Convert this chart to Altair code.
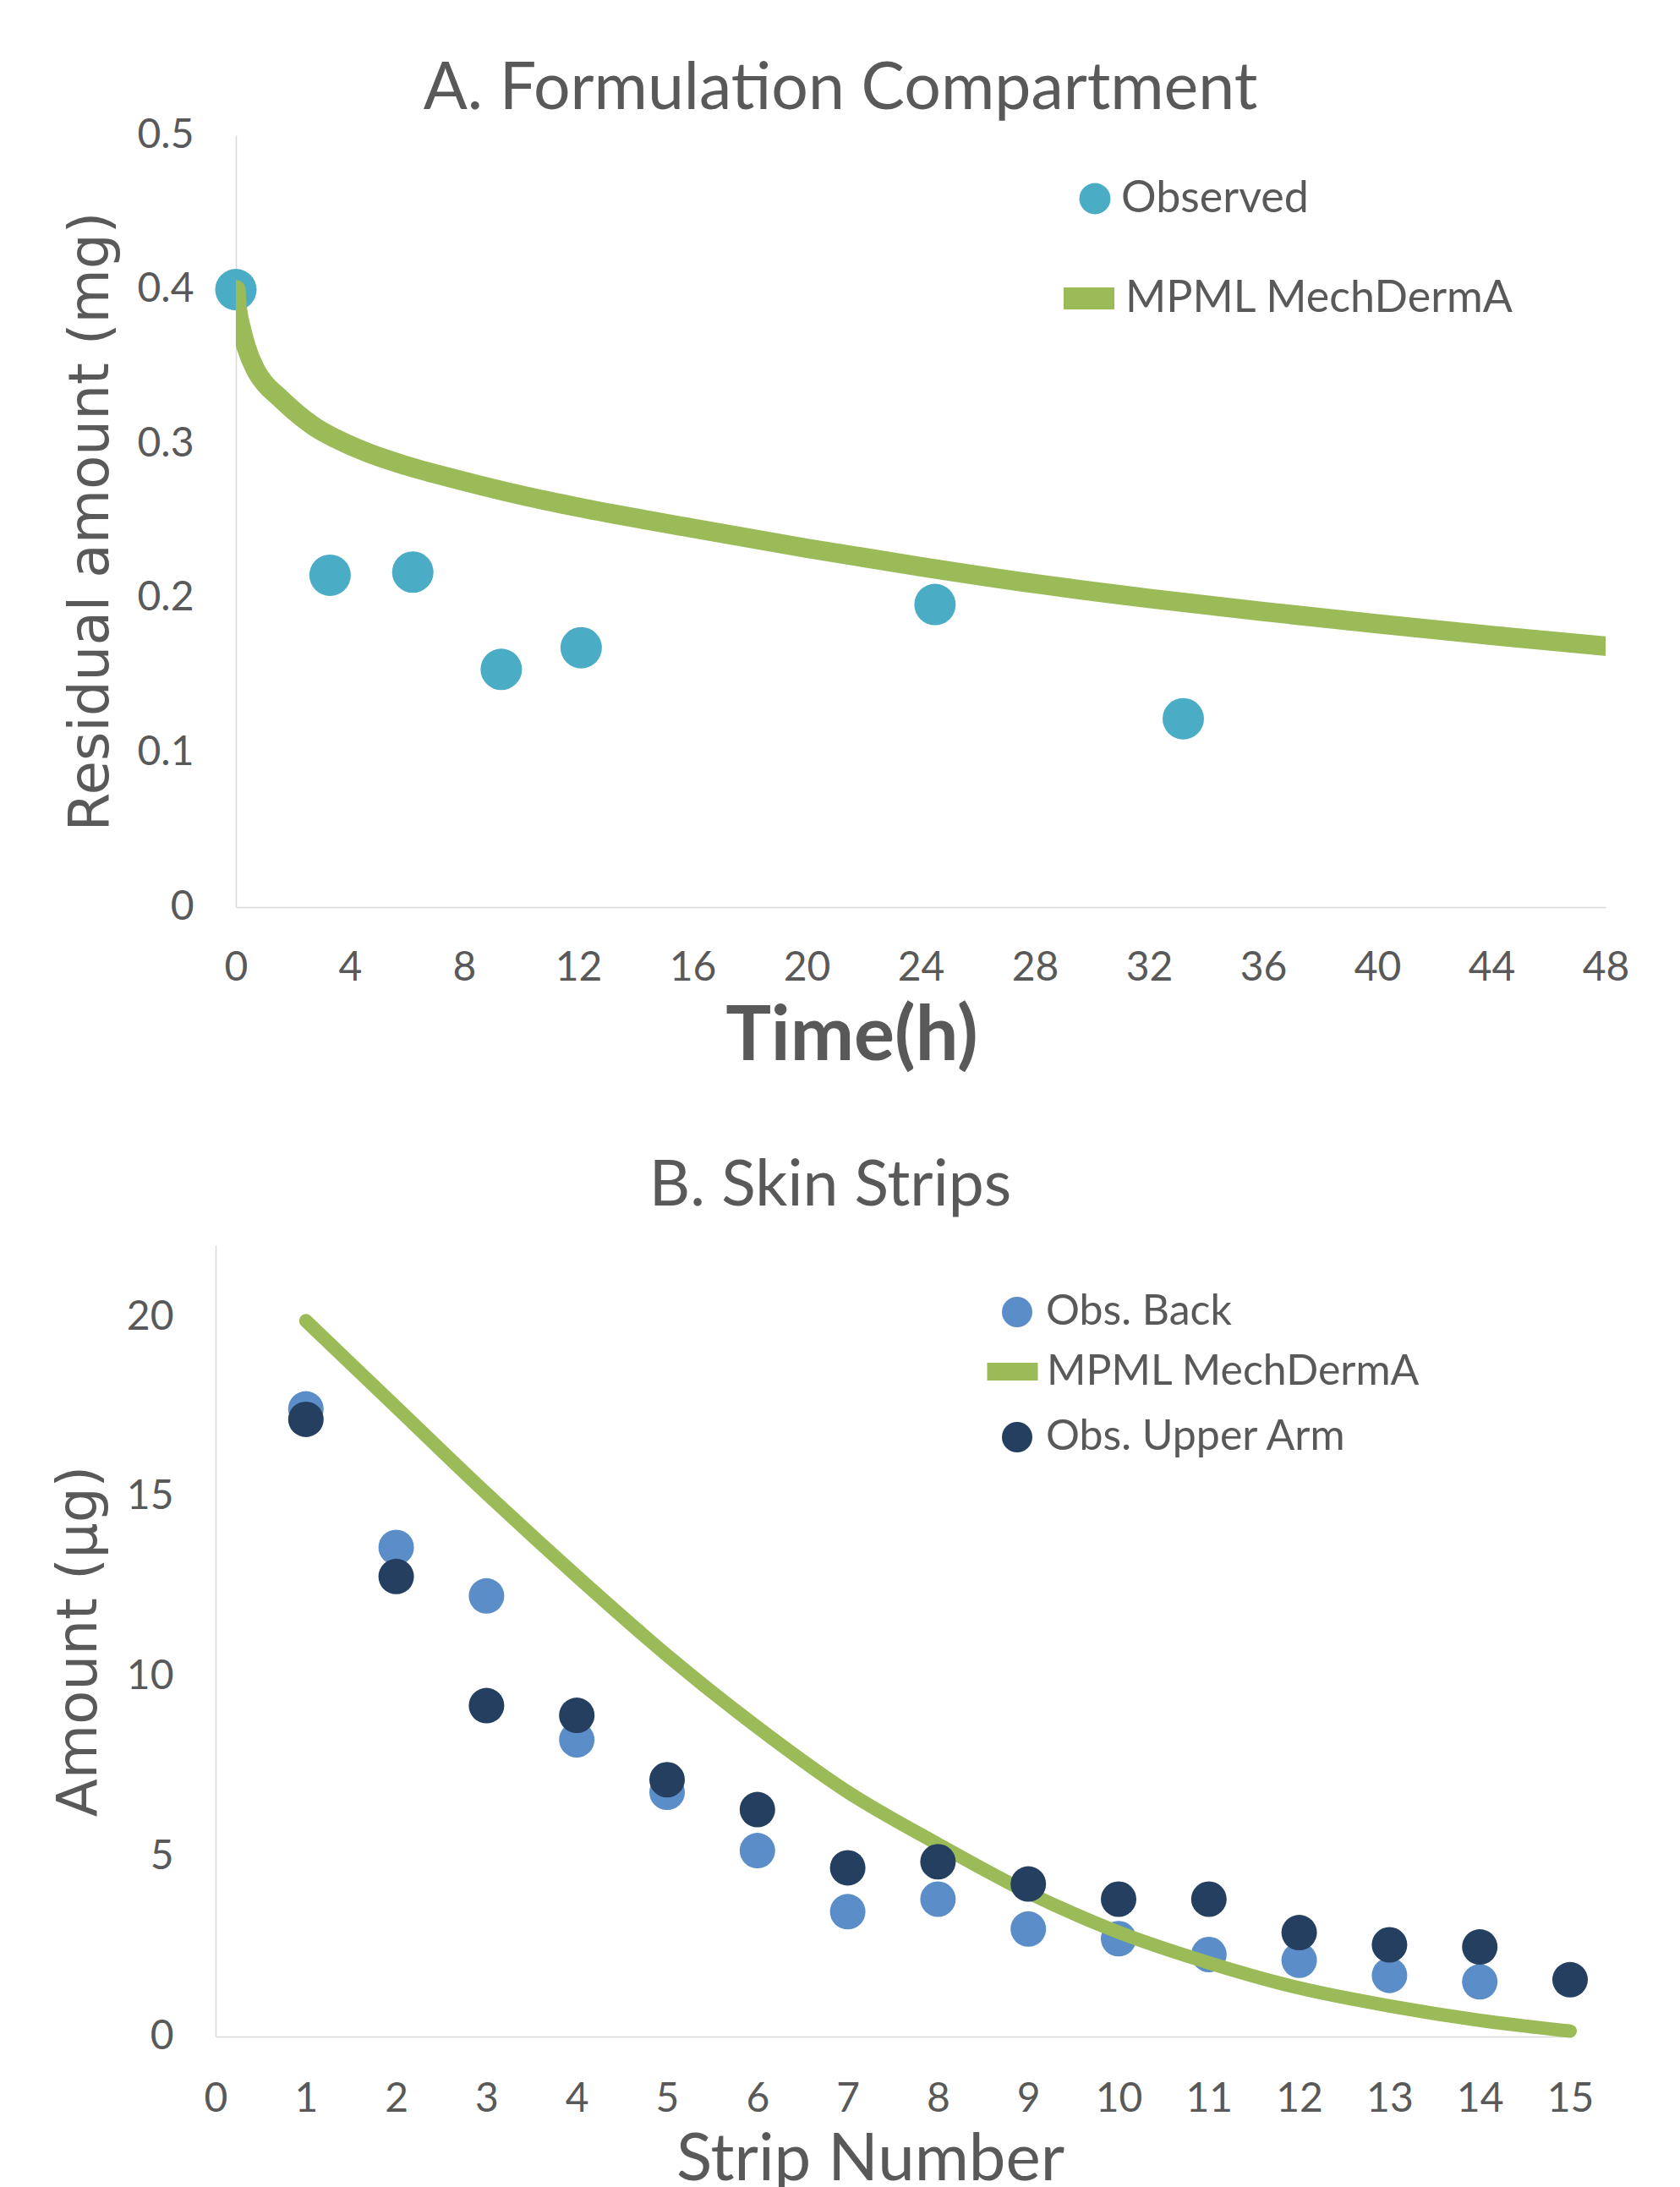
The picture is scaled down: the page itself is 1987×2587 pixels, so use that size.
import altair as alt
import pandas as pd

# ---------------- Panel A: Formulation Compartment ----------------
a_obs_time = [0, 3.3, 6.2, 9.3, 12.1, 24.5, 33.2]
a_obs_amount = [0.400, 0.215, 0.217, 0.154, 0.168, 0.196, 0.122]
a_sim_time = [0, 0.03, 0.08, 0.2, 0.36, 0.69, 1.0, 1.53, 2.0, 2.77, 3.5, 4.74,
              6, 8, 10, 12, 16, 20, 24, 28, 32, 36, 40, 44, 48]
a_sim_amount = [0.400, 0.391, 0.384, 0.374, 0.363, 0.348, 0.3395, 0.330, 0.322,
                0.311, 0.3035, 0.2935, 0.2858, 0.2758, 0.2668, 0.259, 0.2455,
                0.2325, 0.2205, 0.2095, 0.200, 0.1915, 0.1835, 0.176, 0.169]
a_xticks = list(range(0, 49, 4))
a_yticks = [0, 0.1, 0.2, 0.3, 0.4, 0.5]

# ---------------- Panel B: Skin Strips ----------------
b_back_strip = list(range(1, 15))
b_back = [17.45, 13.6, 12.25, 8.25, 6.79, 5.17, 3.47, 3.82, 2.99, 2.72, 2.28,
          2.12, 1.70, 1.52]
b_arm_strip = list(range(1, 16))
b_arm = [17.16, 12.79, 9.2, 8.93, 7.14, 6.31, 4.69, 4.86, 4.24, 3.82, 3.82,
         2.89, 2.55, 2.49, 1.58]
b_model_strip = list(range(1, 16))
b_model = [19.9, 17.5, 15.1, 12.8, 10.6, 8.6, 6.8, 5.35, 4.0, 2.9, 2.05, 1.35,
           0.85, 0.45, 0.15]
b_xticks = list(range(0, 16))
b_yticks = [0, 5, 10, 15, 20]

TXT = "#595959"
TEAL = "#4BACC6"
GREEN = "#9BBB59"
LBLUE = "#5B8DC8"
NAVY = "#243F60"

WA, HA = 1620, 913
B_SHIFT = 24          # panel B's axes sit further left than panel A's
WB, HB = 1602 - B_SHIFT, 936


def leg(x, y, size, offset, stype, sw=0, fs=52):
    return alt.Legend(title=None, orient="none", legendX=x, legendY=y,
                      symbolType=stype, symbolSize=size, symbolStrokeWidth=sw,
                      symbolOpacity=1, labelFont="Lato", labelFontSize=fs,
                      labelColor=TXT, labelOffset=offset, padding=0,
                      labelLimit=0)


# ---- Panel A ----
dfa_obs = pd.DataFrame({"t": a_obs_time, "v": a_obs_amount, "s": "Observed"})
dfa_sim = pd.DataFrame({"t": a_sim_time, "v": a_sim_amount, "s": "MPML MechDermA"})

xA = alt.X("t:Q", scale=alt.Scale(domain=[0, 48], nice=False),
           axis=alt.Axis(values=a_xticks, format="d", title="Time(h)",
                         titleFont="Lato", titleFontSize=90, titleFontWeight="bold",
                         titleColor=TXT, titleX=728, titleY=180,
                         titleBaseline="alphabetic", titleAlign="center",
                         labelPadding=48))
yA = alt.Y("v:Q", scale=alt.Scale(domain=[0, 0.5], nice=False),
           axis=alt.Axis(values=a_yticks, format="~g", title="Residual amount (mg)",
                         titleFont="DejaVu Sans", titleFontSize=66,
                         titleFontWeight="normal", titleColor=TXT,
                         titleX=-152, titleY=HA / 2, titleAngle=270,
                         titleBaseline="alphabetic", titleAlign="center",
                         labelPadding=50))

pts_a = alt.Chart(dfa_obs).mark_circle(size=2401, opacity=1).encode(
    x=xA, y=yA,
    color=alt.Color("s:N", scale=alt.Scale(domain=["Observed"], range=[TEAL]),
                    legend=leg(990, 49, 1369, 5, "circle")))
line_a = alt.Chart(dfa_sim).mark_line(strokeWidth=23, strokeCap="round", clip=True,
                                      interpolate="monotone").encode(
    x=xA, y=yA,
    color=alt.Color("s:N", scale=alt.Scale(domain=["MPML MechDermA"], range=[GREEN]),
                    legend=leg(966, 150, 3600, 0, "stroke", sw=26)))

chart_a = alt.layer(pts_a, line_a).resolve_scale(color="independent").properties(
    width=WA, height=HA,
    title=alt.TitleParams(text="A. Formulation Compartment", font="Lato",
                          fontSize=77, fontWeight="normal", color=TXT,
                          anchor="middle", frame="group", dx=-95, offset=-70,
                          baseline="alphabetic"))

# ---- Panel B ----
dfb_back = pd.DataFrame({"n": b_back_strip, "v": b_back, "s": "Obs. Back"})
dfb_model = pd.DataFrame({"n": b_model_strip, "v": b_model, "s": "MPML MechDermA"})
dfb_arm = pd.DataFrame({"n": b_arm_strip, "v": b_arm, "s": "Obs. Upper Arm"})

xB = alt.X("n:Q", scale=alt.Scale(domain=[0, 15], nice=False, range=[-B_SHIFT, WB]),
           axis=alt.Axis(values=b_xticks, format="d", title="Strip Number",
                         titleFont="Lato", titleFontSize=78, titleFontWeight="normal",
                         titleColor=TXT, titleX=750, titleY=169,
                         titleBaseline="alphabetic", titleAlign="center",
                         labelPadding=50))
yB = alt.Y("v:Q", scale=alt.Scale(domain=[0, 22], nice=False),
           axis=alt.Axis(values=b_yticks, format="d", title="Amount (μg)",
                         titleFont="DejaVu Sans", titleFontSize=66,
                         titleFontWeight="normal", titleColor=TXT,
                         titleX=-142, titleY=HB / 2, titleAngle=270,
                         titleBaseline="alphabetic", titleAlign="center",
                         labelPadding=50, offset=B_SHIFT))

pts_back = alt.Chart(dfb_back).mark_circle(size=1764, opacity=1).encode(
    x=xB, y=yB,
    color=alt.Color("s:N", scale=alt.Scale(domain=["Obs. Back"], range=[LBLUE]),
                    legend=leg(899, 54, 1296, 9, "circle", fs=50)))
line_b = alt.Chart(dfb_model).mark_line(strokeWidth=16, strokeCap="round",
                                        interpolate="monotone").encode(
    x=xB, y=yB,
    color=alt.Color("s:N", scale=alt.Scale(domain=["MPML MechDermA"], range=[GREEN]),
                    legend=leg(878, 109, 3600, 0, "stroke", sw=21, fs=50)))
pts_arm = alt.Chart(dfb_arm).mark_circle(size=1764, opacity=1).encode(
    x=xB, y=yB,
    color=alt.Color("s:N", scale=alt.Scale(domain=["Obs. Upper Arm"], range=[NAVY]),
                    legend=leg(899, 202, 1296, 9, "circle", fs=50)))

chart_b = alt.layer(pts_back, line_b, pts_arm).resolve_scale(color="independent").properties(
    width=WB, height=HB,
    title=alt.TitleParams(text="B. Skin Strips", font="Lato",
                          fontSize=75, fontWeight="normal", color=TXT,
                          anchor="middle", frame="group", dx=-86, offset=-28,
                          baseline="alphabetic"))

chart = alt.vconcat(chart_a, chart_b, spacing=95).properties(
    padding={"left": 52, "top": 59, "right": 10, "bottom": 0},
    background="white",
).configure_view(stroke=None).configure_axis(
    grid=False, ticks=False, tickSize=0, domainColor="#D9D9D9", domainWidth=1.5,
    labelFont="Lato", labelFontSize=48, labelColor=TXT, labelFlush=False,
    labelOverlap=False,
)

chart.save("out.html", embed_options={"renderer": "svg", "actions": False})
